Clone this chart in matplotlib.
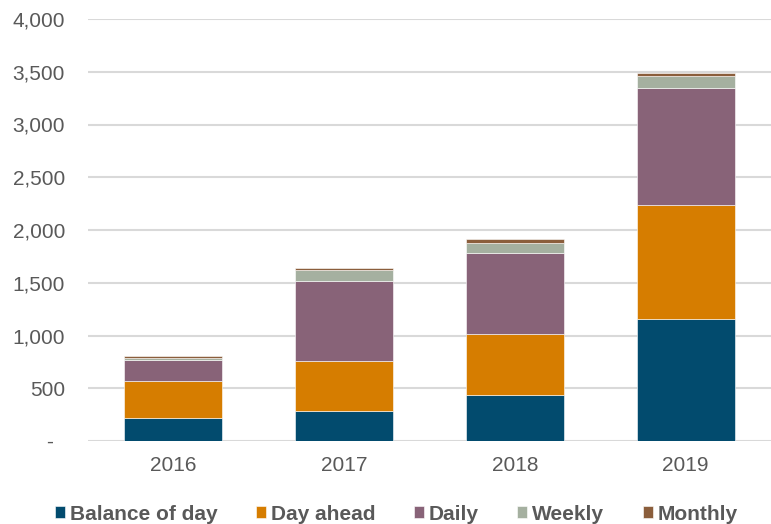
import numpy as np
import matplotlib.pyplot as plt
from matplotlib.ticker import FuncFormatter

plt.rcParams["font.family"] = ["Liberation Sans", "DejaVu Sans"]

# ── Data ──────────────────────────────────────────────────────────────────────
YEARS = ["2016", "2017", "2018", "2019"]
SERIES = ["Balance of day", "Day ahead", "Daily", "Weekly", "Monthly"]
balance_of_day = [220, 285, 440, 1160]
day_ahead      = [350, 475, 575, 1080]
daily          = [200, 752, 770, 1110]
weekly         = [20, 110, 95, 105]
monthly        = [15, 14, 30, 35]
COLORS = ["#024B6E", "#D67D00", "#886378", "#A5B0A0", "#8B5E3C"]


def fmt(v, _):
    return "-  " if v == 0 else f"{v:,.0f}"


fig = plt.figure(figsize=(7.71, 5.24), dpi=100)
ax = fig.add_axes([88 / 771, 1 - 441 / 524, (771 - 88) / 771, (441 - 19) / 524])

x = np.arange(len(YEARS))
bottom = np.zeros(len(YEARS))
for name, vals, color in zip(SERIES, [balance_of_day, day_ahead, daily, weekly, monthly], COLORS):
    ax.bar(x, vals, width=0.575, bottom=bottom, color=color, label=name,
           edgecolor="#ffffff", linewidth=0.4, zorder=3)
    bottom += np.array(vals)

ax.set_xlim(-0.5, len(YEARS) - 0.5)
ax.set_ylim(0, 4000)
ax.set_yticks(np.arange(0, 4001, 500))
ax.yaxis.set_major_formatter(FuncFormatter(fmt))
ax.set_xticks(x)
ax.set_xticklabels(YEARS)
ax.grid(axis="y", color="#D9D9D9", linewidth=1.5, zorder=0)
for s in ["top", "right", "left", "bottom"]:
    ax.spines[s].set_visible(False)
ax.tick_params(axis="both", length=0, labelsize=15, labelcolor="#595959")
ax.tick_params(axis="y", pad=16.5)
ax.tick_params(axis="x", pad=11)

fig.legend(loc="center", bbox_to_anchor=(0.514, 1 - 514 / 524), ncol=5, frameon=False,
           prop={"weight": "bold", "size": 15}, labelcolor="#595959",
           handlelength=0.48, handleheight=0.48, handletextpad=0.24, columnspacing=1.85,
           borderpad=0, borderaxespad=0)

plt.savefig("out.png", dpi=100)
